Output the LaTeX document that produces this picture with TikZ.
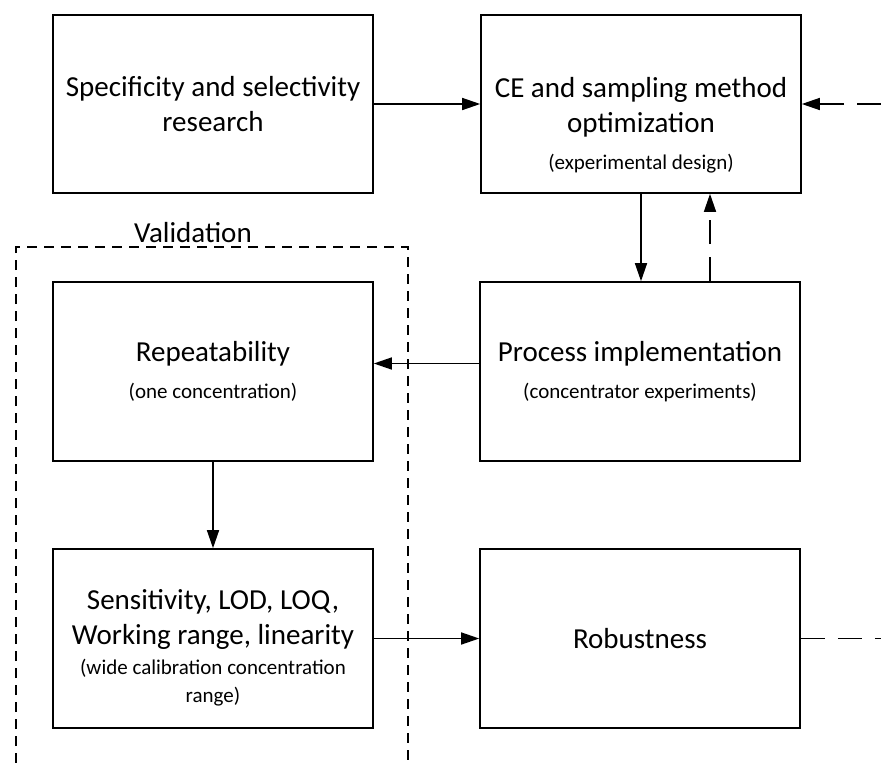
\documentclass[tikz,border=0pt]{standalone}
\usepackage{fontspec}
\setmainfont{Carlito}
\usetikzlibrary{arrows.meta}
\newcommand{\subline}[1]{{\fontsize{21}{27}\selectfont #1}}
\begin{document}
\begin{tikzpicture}[x=1pt,y=-1pt,
  box/.style={draw, line width=1.6pt, inner sep=0pt, align=center,
    minimum width=320pt, font=\fontsize{29}{35}\selectfont},
  boxtext/.style={inner sep=0pt, align=center, font=\fontsize{29}{35}\selectfont},
  link/.style={line width=1.5pt, -{Triangle[length=18pt,width=12pt]}},
  longdash/.style={dash pattern=on 24pt off 13pt},
  frame/.style={line width=1.3pt, dash pattern=on 10pt off 7pt}
]
\useasboundingbox (0,0) rectangle (881,763);

% validation group frame (open at the bottom)
\draw[frame] (16,763) |- (408,247) -- (408,763);
\node[anchor=base, font=\fontsize{29}{35}\selectfont] (vlabel) at (193,242) {Validation};

% process boxes
\node[box, minimum height=178pt] (spec) at (213,104)
  {Specificity and selectivity\\research};
\node[box, minimum height=178pt] (ce) at (641,104) {};
\node[boxtext, yshift=-21pt] (cetext) at (ce.center)
  {CE and sampling method\\optimization\\[2pt]\subline{(experimental design)}};
\node[box, minimum height=179pt] (proc) at (640,371.5)
  {Process implementation\\[2pt]\subline{(concentrator experiments)}};
\node[box, minimum height=179pt] (rep) at (213,371.5)
  {Repeatability\\[2pt]\subline{(one concentration)}};
\node[box, minimum height=179pt] (sens) at (213,638.5) {};
\node[boxtext, yshift=-9pt] (senstext) at (sens.center)
  {Sensitivity, LOD, LOQ,\\Working range, linearity\\[-5pt]
   \subline{(wide calibration concentration}\\[-7pt]\subline{range)}};
\node[box, minimum height=179pt] (rob) at (640,638.5) {Robustness};

% loose ends of the open connectors
\coordinate (inR) at (881,104);
\coordinate (outR) at (881,638.5);

% connectors
\draw[link] (spec.east) -- (ce.west);
\draw[link, longdash] (inR) -- (ce.east);
\draw[link] (ce.south) -- (ce.south |- proc.north);
\draw[link, longdash] ([xshift=70pt]proc.north) -- ([xshift=70pt]proc.north |- ce.south);
\draw[link] ([yshift=8pt]proc.west) -- ([yshift=8pt]proc.west -| rep.east);
\draw[link] (rep.south) -- (sens.north);
\draw[link] (sens.east) -- (rob.west);
\draw[line width=1.5pt, longdash] (rob.east) -- (outR);
\end{tikzpicture}
\end{document}
